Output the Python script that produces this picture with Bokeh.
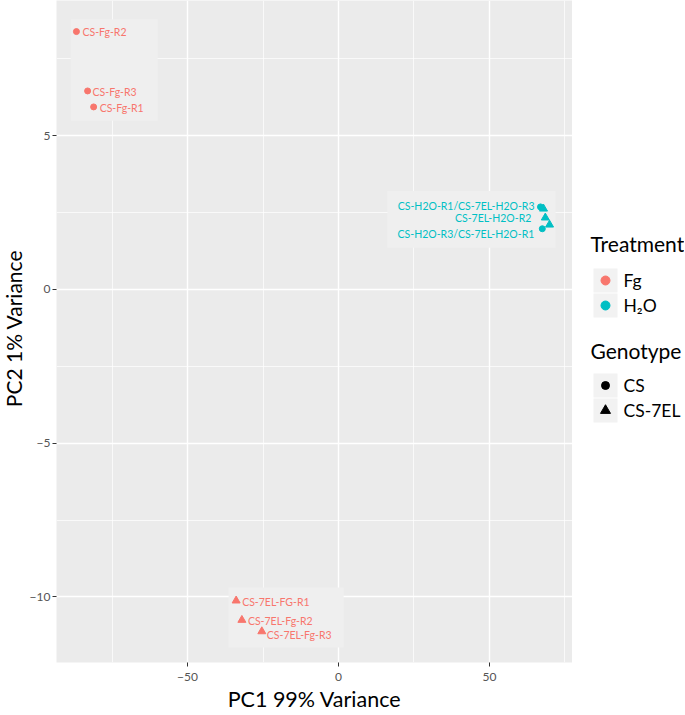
import math
from bokeh.plotting import figure
from bokeh.models import Range1d, FixedTicker, ColumnDataSource
from bokeh.layouts import row
from bokeh.core.properties import value
from bokeh.embed import file_html
from bokeh.resources import INLINE

FONT = "Lato"

# ---------------- data ----------------
samples = ["CS-Fg-R1", "CS-Fg-R2", "CS-Fg-R3",
           "CS-H2O-R1", "CS-H2O-R3",
           "CS-7EL-H2O-R3", "CS-7EL-H2O-R2", "CS-7EL-H2O-R1",
           "CS-7EL-FG-R1", "CS-7EL-Fg-R2", "CS-7EL-Fg-R3"]
pc1 = [-81.1, -86.8, -83.1, 66.9, 67.5, 67.9, 68.5, 69.9, -33.9, -32.0, -25.4]
pc2 = [5.93, 8.38, 6.45, 2.68, 1.97, 2.62, 2.33, 2.10, -10.12, -10.75, -11.12]
treatment = ["Fg", "Fg", "Fg", "H2O", "H2O", "H2O", "H2O", "H2O", "Fg", "Fg", "Fg"]
genotype = ["CS", "CS", "CS", "CS", "CS", "CS-7EL", "CS-7EL", "CS-7EL", "CS-7EL", "CS-7EL", "CS-7EL"]

# labels (text, anchor sample index, pixel offsets, alignment)
label_text = ["CS-Fg-R2", "CS-Fg-R3", "CS-Fg-R1",
              "CS-H2O-R1/CS-7EL-H2O-R3", "CS-7EL-H2O-R2", "CS-H2O-R3/CS-7EL-H2O-R1",
              "CS-7EL-FG-R1", "CS-7EL-Fg-R2", "CS-7EL-Fg-R3"]
label_anchor = [1, 2, 0, 3, 6, 4, 8, 9, 10]
label_dx = [6, 5, 6, -6, -14, -8, 6, 6, 5]
label_dy = [0, 1, 1, -1, 0, 5, 1, 1, 4]
label_align = ["left", "left", "left", "right", "right", "right", "left", "left", "left"]

# light background boxes behind label groups (data units)
box_left = [-88.7, 16.2, -36.4]
box_right = [-59.9, 71.9, 1.7]
box_top = [8.78, 3.20, -9.69]
box_bottom = [5.48, 1.35, -11.64]

x_major = [-50, 0, 50]
x_minor = [-75, -25, 25, 75]
y_major = [-10, -5, 0, 5]
y_minor = [-7.5, -2.5, 2.5, 7.5]

x_title = "PC1 99% Variance"
y_title = "PC2 1% Variance"

treat_levels = ["Fg", "H2O"]
treat_display = ["Fg", "H\u2082O"]
treat_colors = ["#F8766D", "#00BFC4"]
geno_levels = ["CS", "CS-7EL"]
geno_markers = ["circle", "triangle"]

cmap = dict(zip(treat_levels, treat_colors))
mmap = dict(zip(geno_levels, geno_markers))

H = 715
FRAME_H = 662
BOTTOM = H - FRAME_H


def blank(width):
    f = figure(width=width, height=H, x_range=Range1d(0, width), y_range=Range1d(FRAME_H, 0),
               toolbar_location=None, output_backend="svg",
               min_border_left=0, min_border_right=0, min_border_top=0,
               min_border_bottom=BOTTOM,
               x_axis_location=None, y_axis_location=None)
    f.grid.visible = False
    f.outline_line_color = None
    f.background_fill_color = "white"
    f.border_fill_color = "white"
    return f


# ---------------- y title panel ----------------
yt = blank(26)
yt.text(x=[13], y=[328], text=[y_title], angle=math.pi / 2,
        text_align="center", text_baseline="middle", text_color="black",
        text_font=value(FONT), text_font_size="21px")

# ---------------- main plot ----------------
p = figure(width=546, height=H,
           x_range=Range1d(-93.4, 77.5), y_range=Range1d(-12.13, 9.39),
           toolbar_location=None, output_backend="svg",
           min_border_left=26, min_border_right=0, min_border_top=0, min_border_bottom=BOTTOM)
p.background_fill_color = "#EBEBEB"
p.border_fill_color = "white"
p.outline_line_color = None

p.xaxis.ticker = FixedTicker(ticks=x_major, minor_ticks=x_minor)
p.yaxis.ticker = FixedTicker(ticks=y_major, minor_ticks=y_minor)
for g in (p.xgrid, p.ygrid):
    g.grid_line_color = "white"
    g.grid_line_width = 1.4
    g.minor_grid_line_color = "white"
    g.minor_grid_line_width = 0.7

for ax in (p.xaxis, p.yaxis):
    ax.axis_line_color = None
    ax.major_tick_line_color = "#333333"
    ax.major_tick_line_width = 1
    ax.major_tick_out = 4
    ax.major_tick_in = 0
    ax.minor_tick_line_color = None
    ax.major_label_text_font = FONT
    ax.major_label_text_font_size = "12px"
    ax.major_label_text_color = "#555555"
    ax.axis_label_text_font = FONT
    ax.axis_label_text_font_size = "21.5px"
    ax.axis_label_text_font_style = "normal"
    ax.axis_label_text_color = "black"
p.yaxis.major_label_standoff = 2
p.xaxis.major_label_standoff = 6
p.xaxis.axis_label_standoff = 2
p.xaxis.axis_label = x_title

p.quad(left=box_left, right=box_right, top=box_top, bottom=box_bottom,
       fill_color="#EFEFEF", line_color=None)

src = ColumnDataSource(dict(
    x=pc1, y=pc2,
    color=[cmap[t] for t in treatment],
    marker=[mmap[g] for g in genotype],
    size=[6 if g == "CS" else 8 for g in genotype],
))
p.scatter("x", "y", source=src, marker="marker", size="size",
          fill_color="color", line_color="color")

lsrc = ColumnDataSource(dict(
    x=[pc1[i] for i in label_anchor],
    y=[pc2[i] for i in label_anchor],
    text=label_text,
    dx=label_dx,
    dy=label_dy,
    align=label_align,
    color=[cmap[treatment[i]] for i in label_anchor],
))
p.text("x", "y", text="text", source=lsrc, x_offset="dx", y_offset="dy",
       text_align="align", text_baseline="middle", text_color="color",
       text_font=value(FONT), text_font_size="10.5px")

# ---------------- legend panel (pixel coordinates) ----------------
lg = blank(112)

title_y = [243, 350]
lg.text(x=[18, 18], y=title_y, text=["Treatment", "Genotype"],
        text_baseline="middle", text_align="left", text_color="black",
        text_font=value(FONT), text_font_size="21px")

key_y_t = [280, 305]
key_y_g = [385, 410]
lg.rect(x=[33] * 4, y=key_y_t + key_y_g, width=24, height=24,
        fill_color="#F2F2F2", line_color=None)
lg.scatter(x=[33, 33], y=key_y_t, marker="circle", size=9,
           fill_color=treat_colors, line_color=treat_colors)
lg.scatter(x=[33, 33], y=key_y_g, marker=geno_markers, size=[8, 10],
           fill_color="black", line_color="black")
lg.text(x=[51] * 4, y=key_y_t + key_y_g, text=treat_display + geno_levels,
        text_baseline="middle", text_align="left", text_color="black",
        text_font=value(FONT), text_font_size="17.5px")

layout = row(yt, p, lg, spacing=0)
open("out.html", "w").write(file_html(layout, INLINE))
